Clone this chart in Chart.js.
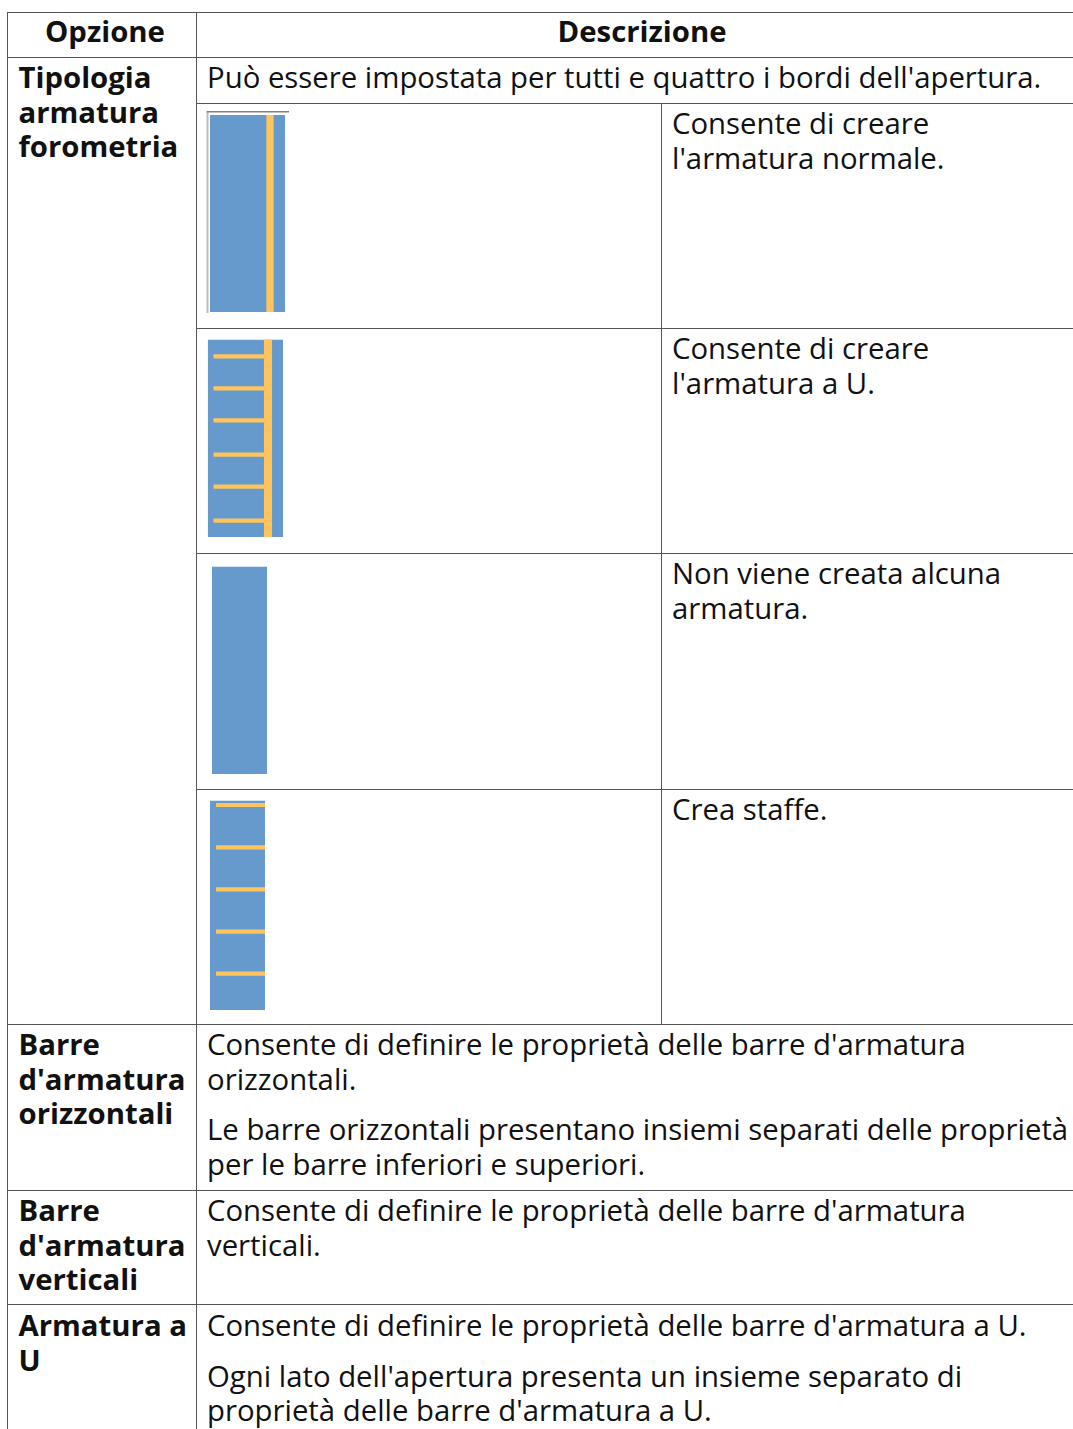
<!DOCTYPE html>
<html lang="it">
<head>
<meta charset="utf-8">
<title>Opzioni armatura forometria</title>
<script src="https://cdn.jsdelivr.net/npm/chart.js@4"></script>
<style>
  html, body { margin: 0; padding: 0; background: #fff; }
  body { width: 1073px; height: 1429px; overflow: hidden; position: relative; }
  table {
    position: absolute; left: 7px; top: 12px; width: 1080px;
    table-layout: fixed; border-collapse: collapse;
    font-family: "Open Sans", sans-serif; font-size: 29.33px; line-height: 34.5px; color: #111;
  }
  td, th { border: 1px solid #555; padding: 2px 4px 0 10px; vertical-align: top; text-align: left; overflow: hidden; }
  th { text-align: center; font-weight: 700; padding: 0; vertical-align: top; line-height: 37px; }
  th.first { padding-left: 6px; }
  td.opt { font-weight: 700; padding-left: 10.5px; padding-right: 2px; }
  td.icon { padding: 0; position: relative; }
  td.icon canvas { position: absolute; left: -1px; top: -1px; filter: blur(0.7px); }
  td.side { padding-right: 40px; }
  tr.last td { padding-top: 3px; }
  p { margin: 0 0 16px 0; }
  p:last-child { margin-bottom: 0; }
</style>
</head>
<body>
<table>
  <colgroup><col style="width:189px"><col style="width:465px"><col style="width:426px"></colgroup>
  <tr style="height:45px"><th class="first">Opzione</th><th colspan="2">Descrizione</th></tr>
  <tr style="height:46px">
    <td class="opt" rowspan="5">Tipologia armatura forometria</td>
    <td colspan="2">Può essere impostata per tutti e quattro i bordi dell'apertura.</td>
  </tr>
  <tr style="height:225px"><td class="icon"><canvas id="icon1"></canvas></td><td class="side">Consente di creare l'armatura normale.</td></tr>
  <tr style="height:225px"><td class="icon"><canvas id="icon2"></canvas></td><td class="side">Consente di creare l'armatura a U.</td></tr>
  <tr style="height:236px"><td class="icon"><canvas id="icon3"></canvas></td><td class="side">Non viene creata alcuna armatura.</td></tr>
  <tr style="height:235px"><td class="icon"><canvas id="icon4"></canvas></td><td class="side">Crea staffe.</td></tr>
  <tr style="height:166px">
    <td class="opt">Barre d'armatura orizzontali</td>
    <td colspan="2"><p>Consente di definire le proprietà delle barre d'armatura orizzontali.</p><p>Le barre orizzontali presentano insiemi separati delle proprietà per le barre inferiori e superiori.</p></td>
  </tr>
  <tr style="height:114px">
    <td class="opt">Barre d'armatura verticali</td>
    <td colspan="2">Consente di definire le proprietà delle barre d'armatura verticali.</td>
  </tr>
  <tr class="last" style="height:140px">
    <td class="opt">Armatura a U</td>
    <td colspan="2"><p>Consente di definire le proprietà delle barre d'armatura a U.</p><p>Ogni lato dell'apertura presenta un insieme separato di proprietà delle barre d'armatura a U.</p></td>
  </tr>
</table>
<script>
const cellHeights = [224, 224, 235, 234];
const panelTop = [12, 11.7, 13.7, 11.7];
const panelBottom = [209, 209, 221, 221];
const panelLeft = [14, 11.7, 16, 14];
const panelRight = [89, 87, 71, 69];
const studLeft = [70.2, 67.8, null, null];
const studRight = [77.8, 76.2, null, null];
const rungStart = [null, 17.5, null, 20];
const rungEnd = [null, 68, null, 69];
const rungsIcon2 = [28.3, 60.3, 92.3, 126.7, 158.7, 192.7];
const rungsIcon4 = [16, 58.3, 100.3, 142.7, 184.7];
const rungRows = [[], rungsIcon2, [], rungsIcon4];

const BLUE = '#6699cc';
const ORANGE = '#ffc55c';

function areaDataset(x0, x1, top, bottom, color, order) {
  return {
    data: [{ x: x0, y: top }, { x: x1, y: top }],
    showLine: true, borderWidth: 0, pointRadius: 0,
    backgroundColor: color, fill: { value: bottom }, order: order
  };
}

function renderIcon(i) {
  const canvas = document.getElementById('icon' + (i + 1));
  const datasets = [];

  // solo la prima immagine ha la cornice grigia
  if (i === 0) {
    datasets.push({ data: [{ x: 10.7, y: 8.7 }, { x: 93, y: 8.7 }], showLine: true, borderColor: '#808080', borderWidth: 1.5, pointRadius: 0, order: 4 });
    datasets.push({ data: [{ x: 11.5, y: 8.7 }, { x: 11.5, y: 210 }], showLine: true, borderColor: '#b9bcc8', borderWidth: 2, pointRadius: 0, order: 4 });
  }

  // order piu' basso = disegnato sopra
  datasets.push(areaDataset(panelLeft[i], panelRight[i], panelTop[i], panelBottom[i], BLUE, 3));

  if (studLeft[i] !== null) {
    datasets.push(areaDataset(studLeft[i], studRight[i], panelTop[i], panelBottom[i], ORANGE, 1));
  }

  rungRows[i].forEach(y => {
    datasets.push({
      data: [{ x: rungStart[i], y: y }, { x: rungEnd[i], y: y }],
      showLine: true, borderColor: ORANGE, borderWidth: 4.2, borderCapStyle: 'butt', pointRadius: 0, order: 2
    });
  });

  new Chart(canvas, {
    type: 'scatter',
    data: { datasets: datasets },
    options: {
      responsive: false,
      animation: false,
      layout: { padding: 0 },
      plugins: { legend: { display: false }, tooltip: { enabled: false } },
      scales: {
        x: { type: 'linear', display: false, min: 0, max: 100 },
        y: { type: 'linear', display: false, min: 0, max: cellHeights[i], reverse: true }
      }
    }
  });
}

document.querySelectorAll('td.icon canvas').forEach((c, i) => {
  c.width = 100;
  c.height = cellHeights[i];
  c.style.width = '100px';
  c.style.height = cellHeights[i] + 'px';
  renderIcon(i);
});
</script>
</body>
</html>
